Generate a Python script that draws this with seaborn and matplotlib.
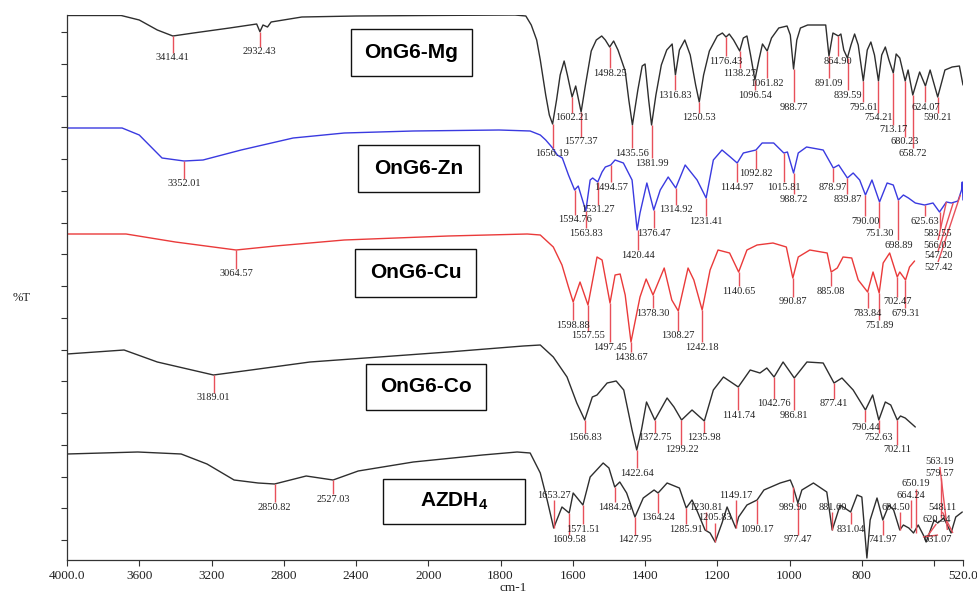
import numpy as np
import pandas as pd
import matplotlib
matplotlib.use("Agg")
import matplotlib.pyplot as plt
from matplotlib.patches import Rectangle
import seaborn as sns

# ---------------- spectra (wavenumber cm-1, stacked %T units) ----------------
mg_wn = [4000, 3700, 3600, 3500, 3414, 3300, 3100, 2950, 2932, 2915, 2890, 2870, 2700, 2400, 2000,
         1760, 1730, 1715, 1700, 1690, 1675, 1665, 1656, 1645, 1635, 1624, 1615, 1602, 1592, 1577,
         1565, 1549, 1535, 1520, 1510, 1498, 1487, 1475, 1455, 1445, 1435, 1420, 1408, 1400, 1390,
         1382, 1370, 1355, 1340, 1325, 1316, 1305, 1290, 1275, 1260, 1250, 1238, 1222, 1200, 1186,
         1176, 1167, 1155, 1138, 1128, 1118, 1108, 1096, 1085, 1075, 1062, 1050, 1030, 1007, 998,
         989, 980, 970, 950, 900, 891, 880, 865, 858, 850, 840, 830, 820, 810, 796, 785, 775, 765,
         754, 745, 735, 725, 713, 705, 695, 680, 672, 659, 640, 624, 611, 590, 570, 550, 530, 520]
mg_t = [544.5, 544.5, 540, 530, 524, 527, 532, 536, 528.3, 535, 533, 538, 543, 544, 544.5,
        545, 544, 535, 520, 500, 465, 445, 436, 460, 485, 499, 485, 463, 474, 448,
        475, 509, 520, 524, 520, 513, 519, 510, 489, 460, 435, 470, 494, 496, 460,
        435, 465, 495, 510, 516, 485, 510, 520, 505, 475, 458, 485, 509, 524, 527,
        523, 526, 520, 509, 522, 524, 505, 480, 500, 516, 509, 522, 532, 534, 525,
        491, 520, 532, 535, 535, 504, 527, 524, 526, 510, 502, 515, 526, 515, 479, 510, 518, 505,
        479, 505, 513, 500, 487, 506, 502, 479, 490, 465, 488, 474, 490, 463, 490, 493, 494, 475]

zn_wn = [4000, 3695, 3600, 3474, 3352, 3247, 3036, 2748, 2465, 2083, 1804, 1718, 1690, 1675, 1663,
         1656, 1643, 1629, 1612, 1595, 1585, 1564, 1552, 1545, 1531, 1519, 1510, 1495, 1483, 1460,
         1436, 1422, 1414, 1395, 1376, 1358, 1336, 1315, 1289, 1256, 1231, 1211, 1187, 1164, 1145,
         1128, 1093, 1076, 1044, 1016, 1006, 989, 976, 953, 907, 879, 864, 840, 824, 806, 790, 772,
         751, 730, 713, 699, 685, 671, 652, 626, 603, 585, 566, 552, 534, 524, 522, 520]
zn_t = [432, 432, 425, 402, 399, 400, 410, 422, 427, 429, 430, 429, 425, 420, 415,
        412, 405, 402, 385, 370, 374, 349, 380, 382, 378, 388, 393, 395, 400, 397,
        380, 330, 347, 377, 350, 370, 383, 372, 395, 380, 362, 400, 410, 403, 397,
        407, 410, 417, 417, 407, 408, 387, 407, 413, 410, 392, 395, 382, 387, 380, 365, 380,
        358, 377, 375, 360, 365, 362, 357, 355, 357, 348, 358, 357, 359, 370, 378, 360]

cu_wn = [4000, 3673, 3400, 3064, 2847, 2465, 1945, 1726, 1690, 1654, 1630, 1612, 1599, 1580, 1558,
         1533, 1519, 1497, 1483, 1469, 1455, 1439, 1414, 1397, 1378, 1347, 1326, 1308, 1281, 1265,
         1242, 1220, 1198, 1166, 1141, 1118, 1090, 1046, 1009, 991, 976, 944, 896, 885, 868, 852,
         828, 810, 784, 769, 752, 741, 723, 702, 695, 679, 668, 654]
cu_t = [326, 326, 318, 310, 314, 320, 324, 326, 325, 313, 295, 273, 258, 278, 255,
        303, 300, 257, 285, 286, 265, 218, 263, 281, 265, 292, 260, 249, 292, 280,
        250, 290, 310, 307, 288, 310, 315, 317, 313, 282, 303, 310, 307, 288, 292, 303,
        302, 280, 268, 288, 267, 297, 307, 283, 288, 280, 293, 299]

co_wn = [4000, 3684, 3500, 3189, 2981, 2655, 2271, 1945, 1737, 1690, 1654, 1616, 1589, 1567, 1546,
         1533, 1505, 1480, 1459, 1436, 1423, 1410, 1396, 1373, 1339, 1320, 1299, 1270, 1236, 1211,
         1183, 1142, 1109, 1082, 1063, 1043, 1018, 987, 952, 907, 877, 855, 824, 790, 770, 753,
         735, 720, 702, 693, 680, 652]
co_t = [206, 210, 198, 185, 190, 198, 203, 208, 214, 215, 203, 183, 157, 140, 163,
        165, 177, 179, 170, 130, 110, 130, 158, 140, 162, 153, 140, 150, 139, 170,
        183, 173, 190, 187, 192, 183, 198, 182, 198, 197, 177, 182, 170, 150, 165, 140,
        158, 155, 140, 144, 142, 133]

az_wn = [4000, 3608, 3368, 3225, 3075, 2942, 2851, 2676, 2527, 2388, 2083, 1850, 1754, 1718, 1690,
         1671, 1653, 1630, 1610, 1599, 1572, 1552, 1516, 1500, 1484, 1470, 1451, 1428, 1405, 1375,
         1364, 1339, 1305, 1286, 1270, 1257, 1234, 1220, 1206, 1187, 1173, 1149, 1141, 1118, 1090,
         1071, 1026, 998, 990, 977, 966, 934, 897, 882, 860, 831, 813, 800, 786, 777, 758, 742,
         725, 712, 695, 685, 670, 657, 644, 627, 622, 600, 590, 573, 553, 540, 522]
az_t = [106, 108, 106, 96, 80, 77, 76, 84, 80, 89, 98, 105, 108, 107, 87,
        60, 32, 53, 47, 67, 55, 83, 97, 92, 73, 78, 67, 43, 62, 70,
        67, 77, 72, 52, 60, 50, 30, 27, 18, 37, 53, 32, 43, 55, 60,
        70, 77, 80, 73, 57, 70, 77, 68, 30, 55, 48, 65, 63, 2, 40, 62, 40,
        55, 50, 30, 35, 32, 27, 35, 23, 18, 40, 37, 42, 27, 43, 48]

# ---------------- peak labels ----------------
mg_peaks = ["3414.41", "2932.43", "1656.19", "1602.21", "1577.37", "1498.25", "1435.56", "1381.99",
            "1316.83", "1250.53", "1176.43", "1138.27", "1096.54", "1061.82", "988.77", "891.09",
            "864.90", "839.59", "795.61", "754.21", "713.17", "680.23", "658.72", "624.07", "590.21"]
mg_peak_t = [524, 528, 436, 463, 448, 513, 435, 435, 485, 458, 523, 509, 480, 509, 491, 504,
             524, 502, 479, 479, 487, 479, 465, 474, 463]
mg_label_t = [502, 508, 407, 442, 418, 487, 407, 397, 465, 442, 499, 487, 465, 477, 453, 477,
              499, 465, 453, 442, 430, 418, 407, 453, 442]

zn_peaks = ["3352.01", "1594.76", "1563.83", "1531.27", "1494.57", "1420.44", "1376.47", "1314.92",
            "1231.41", "1144.97", "1092.82", "1015.81", "988.72", "878.97", "839.87", "790.00",
            "751.30", "698.89", "625.63", "583.55", "566.02", "547.20", "527.42"]
zn_peak_t = [399, 370, 349, 378, 395, 330, 350, 372, 362, 397, 410, 407, 387, 392, 382, 365,
             358, 360, 355, 348, 358, 357, 365]
zn_label_t = [376, 340, 327, 350, 373, 305, 327, 350, 339, 373, 386, 373, 361, 373, 361, 339,
              327, 315, 339, 327, 315, 304, 293]
zn_label_wn = {"583.55": 589, "566.02": 589, "547.20": 589, "527.42": 589}

cu_peaks = ["3064.57", "1598.88", "1557.55", "1497.45", "1438.67", "1378.30", "1308.27", "1242.18",
            "1140.65", "990.87", "885.08", "783.84", "751.89", "702.47", "679.31"]
cu_peak_t = [310, 258, 255, 257, 218, 265, 249, 250, 288, 282, 288, 268, 267, 283, 280]
cu_label_t = [286, 235, 224, 213, 203, 247, 224, 213, 269, 258, 269, 247, 235, 258, 247]

co_peaks = ["3189.01", "1566.83", "1422.64", "1372.75", "1299.22", "1235.98", "1141.74", "1042.76",
            "986.81", "877.41", "790.44", "752.63", "702.11"]
co_peak_t = [185, 140, 110, 140, 140, 139, 173, 183, 182, 177, 150, 140, 140]
co_label_t = [162, 122, 87, 122, 110, 122, 145, 156, 145, 156, 133, 122, 110]

az_peaks = ["2850.82", "2527.03", "1653.27", "1609.58", "1571.51", "1484.26", "1427.95", "1364.24",
            "1285.91", "1230.81", "1205.83", "1149.17", "1090.17", "989.90", "977.47", "881.60",
            "831.04", "741.97", "694.50", "664.24", "650.19", "620.34", "631.07", "548.11",
            "563.19", "579.57"]
az_peak_t = [76, 80, 32, 47, 55, 73, 43, 67, 52, 30, 18, 32, 60, 73, 57, 30,
             48, 40, 30, 32, 27, 23, 23, 27, 30, 42]
az_label_t = [53, 61, 65, 20, 31, 53, 20, 42, 31, 53, 42, 65, 31, 53, 20, 53,
              31, 20, 53, 65, 76, 41, 20, 53, 98, 87]
az_label_wn = {"694.50": 706, "620.34": 594, "631.07": 589, "548.11": 577, "563.19": 584,
               "579.57": 584}

sample_names = ["OnG6-Mg", "OnG6-Zn", "OnG6-Cu", "OnG6-Co", "AZDH4"]
sample_colors = ["#2e2e2e", "#3a3ae0", "#ea3a3a", "#2e2e2e", "#2e2e2e"]

x_ticks = [4000, 3600, 3200, 2800, 2400, 2000, 1800, 1600, 1400, 1200, 1000, 800, 600, 520]
x_tick_labels = ["4000.0", "3600", "3200", "2800", "2400", "2000", "1800", "1600", "1400",
                 "1200", "1000", "800", "", "520.0"]

# ---------------- build figure ----------------
sns.set_theme(style="ticks")
plt.rcParams["font.family"] = ["Liberation Serif", "DejaVu Serif"]
plt.rcParams["mathtext.fontset"] = "custom"
plt.rcParams["mathtext.bf"] = "Liberation Sans:bold"
plt.rcParams["mathtext.rm"] = "Liberation Sans:bold"

W, H = 978, 596
fig = plt.figure(figsize=(W / 100, H / 100), dpi=100)
ax = fig.add_axes([67 / W, 36 / H, 896 / W, 545 / H])

frames = []
for name, wn, t in zip(sample_names,
                       [mg_wn, zn_wn, cu_wn, co_wn, az_wn],
                       [mg_t, zn_t, cu_t, co_t, az_t]):
    frames.append(pd.DataFrame({"wn": wn, "T": t, "sample": name}))
df = pd.concat(frames, ignore_index=True)

sns.lineplot(data=df, x="wn", y="T", hue="sample", palette=dict(zip(sample_names, sample_colors)),
             sort=False, estimator=None, lw=1.0, legend=False, ax=ax)


def fwd(x):
    x = np.asarray(x, dtype=float)
    return np.where(x > 2000, 2000 + (x - 2000) / 2.0, x)


def inv(y):
    y = np.asarray(y, dtype=float)
    return np.where(y > 2000, 2000 + (y - 2000) * 2.0, y)


ax.set_xscale("function", functions=(fwd, inv))
ax.set_xlim(4000, 520)
ax.set_ylim(0, 545)

peak_color = "#e8505a"


def draw_peaks(labels, peak_t, label_t, label_wn=None):
    label_wn = label_wn or {}
    for lab, pt, lt in zip(labels, peak_t, label_t):
        wn = float(lab)
        tx = label_wn.get(lab, wn)
        end = lt + 5 if lt < pt else lt - 5
        # leader runs vertically at the peak; slanted only for stacked labels
        x_end = tx if abs(tx - wn) > 12 else wn
        ax.plot([x_end, wn], [end, pt], color=peak_color, lw=1.0,
                solid_capstyle="butt", zorder=3)
        ax.text(tx, lt, lab, ha="center", va="center", fontsize=7.5, color="#222222",
                zorder=4)


draw_peaks(mg_peaks, mg_peak_t, mg_label_t)
draw_peaks(zn_peaks, zn_peak_t, zn_label_t, zn_label_wn)
draw_peaks(cu_peaks, cu_peak_t, cu_label_t)
draw_peaks(co_peaks, co_peak_t, co_label_t)
draw_peaks(az_peaks, az_peak_t, az_label_t, az_label_wn)

ax.set_xticks(x_ticks)
ax.set_xticklabels(x_tick_labels)
ax.set_yticks(np.linspace(20, 528, 17))
ax.set_yticklabels([])
ax.tick_params(axis="both", direction="out", length=4, width=0.8, colors="#333333",
               labelsize=9.5, labelcolor="#222222")
ax.xaxis.set_minor_locator(matplotlib.ticker.NullLocator())
for s in ["top", "right"]:
    ax.spines[s].set_visible(False)
for s in ["left", "bottom"]:
    ax.spines[s].set_color("#333333")
    ax.spines[s].set_linewidth(0.9)
ax.set_xlabel("")
ax.set_ylabel("")

fig.text(22 / W, 1 - 298 / H, "%T", ha="center", va="center", fontsize=9, color="#222222")
fig.text(513 / W, 1 - 588 / H, "cm-1", ha="center", va="center", fontsize=9.5, color="#222222")

# sample name boxes (pixel extents: x0, x1, y0, y1 from top)
box_px = [(351, 472, 29, 76), (358, 479, 145, 192), (355, 476, 249, 297),
          (366, 486, 364, 410), (383, 525, 479, 524)]
box_text = ["OnG6-Mg", "OnG6-Zn", "OnG6-Cu", "OnG6-Co", r"AZDH$_{\mathbf{4}}$"]
for (x0, x1, y0, y1), txt in zip(box_px, box_text):
    fig.add_artist(Rectangle((x0 / W, 1 - y1 / H), (x1 - x0) / W, (y1 - y0) / H,
                             transform=fig.transFigure, fill=True, facecolor="white",
                             edgecolor="#111111", lw=1.0, zorder=5))
    fig.text((x0 + x1) / 2 / W, 1 - (y0 + y1) / 2 / H, txt, ha="center", va="center",
             fontsize=15, fontweight="bold", family=["Liberation Sans", "DejaVu Sans"],
             color="black", zorder=6)

fig.savefig("out.png", dpi=100)
